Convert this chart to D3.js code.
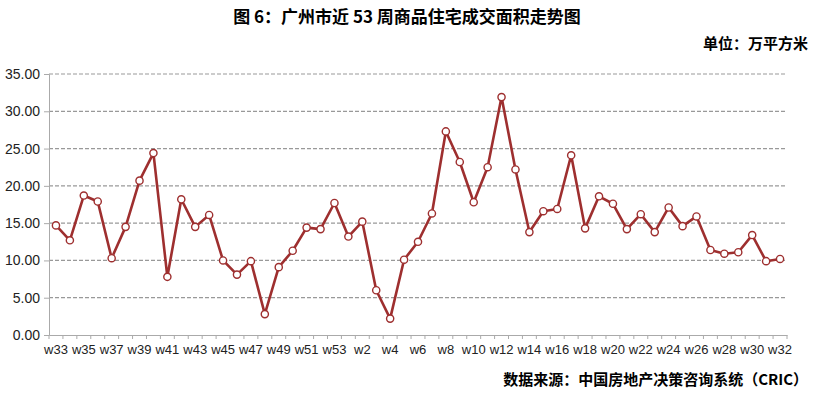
<!DOCTYPE html>
<html>
<head>
<meta charset="utf-8">
<script src="https://cdn.jsdelivr.net/npm/d3@7"></script>
<style>
  body { margin: 0; background: #fff; }
  svg { display: block; }
  .cn { font-family: "Noto Sans CJK SC", "Microsoft YaHei", sans-serif; font-weight: bold; fill: #000; }
  .axis text { font-family: "Liberation Sans", Arial, sans-serif; font-size: 13px; fill: #222; }
  .yaxis text { font-size: 14px; }
</style>
</head>
<body>
<script>
// weeks: w33..w53 of last year, then w1..w32
var weeks = ['w33','w34','w35','w36','w37','w38','w39','w40','w41','w42','w43','w44','w45','w46','w47','w48','w49','w50','w51','w52','w53',
  'w1','w2','w3','w4','w5','w6','w7','w8','w9','w10','w11','w12','w13','w14','w15','w16','w17','w18','w19','w20',
  'w21','w22','w23','w24','w25','w26','w27','w28','w29','w30','w31','w32'];
// 成交面积 (万平方米)
var area = [14.7, 12.7, 18.7, 17.9, 10.3, 14.5, 20.7, 24.4, 7.8, 18.2, 14.5, 16.1, 10.0, 8.1, 9.9, 2.8, 9.1, 11.3, 14.4, 14.2, 17.7,
  13.2, 15.2, 6.0, 2.2, 10.1, 12.5, 16.3, 27.3, 23.2, 17.8, 22.5, 31.9, 22.2, 13.8, 16.6, 16.9, 24.1, 14.3, 18.6, 17.6,
  14.2, 16.2, 13.8, 17.1, 14.6, 15.9, 11.4, 10.9, 11.1, 13.4, 9.9, 10.2];
var yTicks = [0, 5, 10, 15, 20, 25, 30, 35];
var titleText = '图 6：广州市近 53 周商品住宅成交面积走势图';
var unitText = '单位：万平方米';
var sourceText = '数据来源：中国房地产决策咨询系统（CRIC）';

function main() {
  var width = 815, height = 395;
  var plotLeft = 49, plotRight = 787, plotTop = 74, plotBottom = 335;
  var lineColor = '#9e2f2f';

  var svg = d3.select('body').append('svg')
      .attr('width', width)
      .attr('height', height);

  var x = d3.scaleBand().domain(weeks).range([plotLeft, plotRight]).padding(0);
  var y = d3.scaleLinear().domain([0, 35]).range([plotBottom, plotTop]);

  // grid lines
  svg.append('g').selectAll('line')
      .data(yTicks.filter(function(d) { return d > 0; }))
      .enter().append('line')
      .attr('x1', plotLeft)
      .attr('x2', plotRight)
      .attr('y1', function(d) { return y(d); })
      .attr('y2', function(d) { return y(d); })
      .style('stroke', '#999')
      .style('stroke-width', 1.2)
      .style('stroke-dasharray', '4,2');

  // y axis
  var yAxis = svg.append('g')
      .attr('class', 'axis yaxis')
      .attr('transform', 'translate(' + plotLeft + ',0)')
      .call(d3.axisLeft(y).tickValues(yTicks).tickFormat(d3.format('.2f')).tickSize(5).tickPadding(4));
  yAxis.select('.domain').style('stroke', '#aaa');
  yAxis.selectAll('.tick line').style('stroke', '#aaa');

  // x axis: labels every other week
  var xAxis = svg.append('g')
      .attr('class', 'axis')
      .attr('transform', 'translate(0,' + plotBottom + ')')
      .call(d3.axisBottom(x)
        .tickValues(weeks.filter(function(d, i) { return i % 2 == 0; }))
        .tickSize(0).tickPadding(10));
  xAxis.select('.domain').style('stroke', '#aaa');

  // tick marks on category boundaries
  var edges = weeks.map(function(d) { return x(d); }).concat([x(weeks[weeks.length - 1]) + x.bandwidth()]);
  svg.append('g').selectAll('line')
      .data(edges)
      .enter().append('line')
      .attr('x1', function(d) { return d; })
      .attr('x2', function(d) { return d; })
      .attr('y1', plotBottom)
      .attr('y2', plotBottom + 4)
      .style('stroke', '#aaa');

  // line
  var line = d3.line()
      .x(function(d, i) { return x(weeks[i]) + x.bandwidth() / 2; })
      .y(function(d) { return y(d); });

  svg.append('path')
      .datum(area)
      .attr('d', line)
      .style('fill', 'none')
      .style('stroke', lineColor)
      .style('stroke-width', 2.6)
      .style('stroke-linejoin', 'round');

  svg.append('g').selectAll('circle')
      .data(area)
      .enter().append('circle')
      .attr('cx', function(d, i) { return x(weeks[i]) + x.bandwidth() / 2; })
      .attr('cy', function(d) { return y(d); })
      .attr('r', 3.6)
      .style('fill', '#fff')
      .style('stroke', lineColor)
      .style('stroke-width', 1.4);

  // texts
  svg.append('text')
      .attr('class', 'cn')
      .attr('x', 407)
      .attr('y', 23)
      .attr('text-anchor', 'middle')
      .style('font-size', '17px')
      .text(titleText);

  svg.append('text')
      .attr('class', 'cn')
      .attr('x', 808)
      .attr('y', 49)
      .attr('text-anchor', 'end')
      .style('font-size', '15px')
      .text(unitText);

  svg.append('text')
      .attr('class', 'cn')
      .attr('x', 808)
      .attr('y', 385)
      .attr('text-anchor', 'end')
      .style('font-size', '15px')
      .text(sourceText);
}

main();
</script>
</body>
</html>
